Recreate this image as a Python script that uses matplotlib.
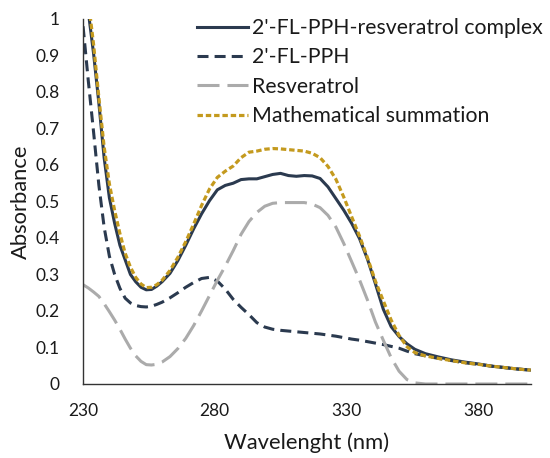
import matplotlib
matplotlib.use("Agg")
import matplotlib.pyplot as plt

plt.rcParams['font.family'] = ['Lato', 'DejaVu Sans']

wavelength = [230, 232, 234, 236, 238, 240, 242, 244, 246, 248, 250, 252, 254, 256, 258, 260,
              263, 266, 269, 272, 275, 278, 281, 284, 287, 290, 293, 296, 299, 302, 305, 308,
              311, 314, 317, 320, 323, 326, 329, 332, 335, 338, 341, 344, 347, 350, 353, 356,
              360, 365, 370, 375, 380, 385, 390, 395, 400]

complex_abs = [1.12, 1.02, 0.905, 0.77, 0.62, 0.51, 0.44, 0.38, 0.34, 0.30, 0.28, 0.265, 0.258,
               0.259, 0.268, 0.28, 0.303, 0.338, 0.38, 0.425, 0.466, 0.502, 0.532, 0.544, 0.55,
               0.56, 0.562, 0.562, 0.568, 0.574, 0.577, 0.571, 0.569, 0.571, 0.57, 0.563, 0.54,
               0.508, 0.476, 0.44, 0.398, 0.342, 0.275, 0.205, 0.157, 0.13, 0.11, 0.095, 0.083,
               0.074, 0.066, 0.06, 0.055, 0.049, 0.045, 0.041, 0.038]

pph_abs = [0.98, 0.83, 0.69, 0.545, 0.43, 0.35, 0.30, 0.262, 0.235, 0.222, 0.215, 0.212, 0.211,
           0.213, 0.218, 0.224, 0.236, 0.25, 0.265, 0.278, 0.289, 0.292, 0.282, 0.26, 0.232,
           0.21, 0.19, 0.168, 0.156, 0.15, 0.147, 0.145, 0.143, 0.141, 0.139, 0.137, 0.134,
           0.131, 0.127, 0.123, 0.12, 0.116, 0.112, 0.108, 0.103, 0.098, 0.09, 0.083, 0.077,
           0.07, 0.064, 0.058, 0.054, 0.049, 0.045, 0.041, 0.038]

resveratrol_abs = [0.272, 0.263, 0.252, 0.24, 0.22, 0.198, 0.175, 0.15, 0.123, 0.098, 0.077,
                   0.062, 0.053, 0.052, 0.054, 0.06, 0.075, 0.097, 0.125, 0.16, 0.2, 0.242,
                   0.284, 0.323, 0.365, 0.41, 0.445, 0.47, 0.487, 0.495, 0.497, 0.497, 0.497,
                   0.497, 0.493, 0.483, 0.462, 0.43, 0.385, 0.335, 0.285, 0.23, 0.17, 0.12,
                   0.072, 0.035, 0.012, 0.003, 0.0, 0.0, 0.0, 0.0, 0.0, 0.0, 0.0, 0.0, 0.0]

summation_abs = [1.25, 1.05, 0.93, 0.785, 0.65, 0.548, 0.475, 0.412, 0.358, 0.32, 0.292, 0.274,
                 0.264, 0.265, 0.272, 0.284, 0.311, 0.347, 0.39, 0.438, 0.489, 0.534, 0.566,
                 0.583, 0.597, 0.62, 0.635, 0.638, 0.643, 0.645, 0.644, 0.642, 0.64, 0.638,
                 0.632, 0.62, 0.596, 0.561, 0.512, 0.458, 0.405, 0.346, 0.282, 0.228, 0.175,
                 0.133, 0.102, 0.086, 0.077, 0.07, 0.064, 0.058, 0.054, 0.049, 0.045, 0.041, 0.038]

labels = ["2'-FL-PPH-resveratrol complex", "2'-FL-PPH", "Resveratrol", "Mathematical summation"]
x_ticks = [230, 280, 330, 380]
y_ticks = [0, 0.1, 0.2, 0.3, 0.4, 0.5, 0.6, 0.7, 0.8, 0.9, 1]
y_ticklabels = ["0", "0.1", "0.2", "0.3", "0.4", "0.5", "0.6", "0.7", "0.8", "0.9", "1"]

fig = plt.figure(figsize=(5.5, 4.58), dpi=100)
ax = fig.add_axes([0.151, 0.1616, 0.814, 0.797])

navy = '#2B3A4F'
ax.plot(wavelength, complex_abs, color=navy, lw=2.2, label=labels[0])
ax.plot(wavelength, pph_abs, color=navy, lw=2.2, dashes=(3.6, 2.0), label=labels[1])
ax.plot(wavelength, resveratrol_abs, color='#ABABAB', lw=2.2, dashes=(7.2, 2.6), label=labels[2])
ax.plot(wavelength, summation_abs, color='#C49A1E', lw=2.3, dashes=(1.7, 0.9), label=labels[3])

ax.set_xlim(230, 400)
ax.set_ylim(0, 1)
ax.set_xticks(x_ticks)
ax.set_yticks(y_ticks)
ax.set_yticklabels(y_ticklabels)
ax.tick_params(axis='both', length=0, labelsize=12.5, colors='#1a1a1a')
ax.tick_params(axis='y', pad=17)
ax.tick_params(axis='x', pad=14)
for s in ['top', 'right']:
    ax.spines[s].set_visible(False)
for s in ['left', 'bottom']:
    ax.spines[s].set_color('#333333')
    ax.spines[s].set_linewidth(1.0)

ax.set_xlabel('Wavelenght (nm)', fontsize=15.8, color='#1a1a1a', labelpad=9)
ax.set_ylabel('Absorbance', fontsize=15.8, color='#1a1a1a', labelpad=3)

leg = ax.legend(loc='upper left', bbox_to_anchor=(197/550, 1 - 18/458), bbox_transform=fig.transFigure,
                frameon=False, fontsize=15.3, handlelength=2.4, handletextpad=0.2,
                labelspacing=0.44, borderaxespad=0, borderpad=0)
for t in leg.get_texts():
    t.set_color('#1a1a1a')

fig.savefig('out.png', dpi=100)
